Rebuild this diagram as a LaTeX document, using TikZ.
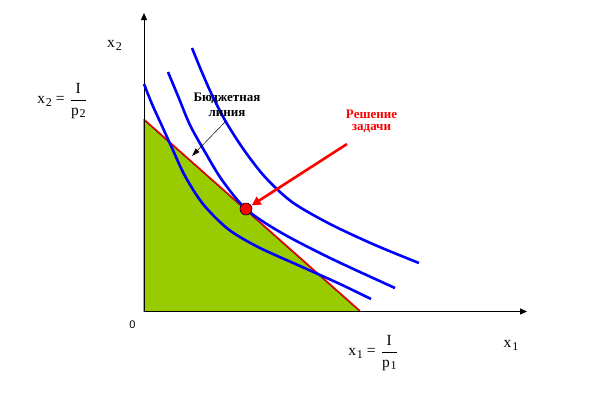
\documentclass[tikz,border=0pt]{standalone}
\usepackage{fontspec}
\setmainfont{Liberation Serif}
\newfontfamily\arialfont{Liberation Sans}
\usetikzlibrary{arrows.meta}
\definecolor{budgetgreen}{HTML}{99CC00}
\newcommand{\lowidx}[1]{\kern0.8pt\raisebox{-0.4ex}{\fontsize{12}{13}\selectfont #1}}
\newcommand{\ratiofrac}[2]{{\renewcommand{\arraystretch}{1.25}\begin{tabular}{@{}c@{}}#1\\\hline #2\end{tabular}}}
\begin{document}
\begin{tikzpicture}[x=1pt,y=-1pt,
	axis/.style={line width=1pt,-{Triangle[length=7pt,width=6pt]}},
	ic/.style={blue,line width=2.6pt},
	lbl/.style={inner sep=0pt,font=\fontsize{15.5}{17}\selectfont},
	note/.style={inner sep=0pt,align=center,font=\bfseries\fontsize{13}{15}\selectfont}]
	\useasboundingbox (0,0) rectangle (612,408);
	\coordinate (O)  at (144,311.5);
	\coordinate (Y)  at (144,13);
	\coordinate (X)  at (527,311.5);
	\coordinate (B2) at (144,120);
	\coordinate (B1) at (360,311.5);
	\fill[budgetgreen,draw=black,line width=0.8pt] (B2) -- (B1) -- (O) -- cycle;
	\draw[red,line width=1.4pt] ([yshift=0.7pt]B2) -- ([yshift=0.7pt]B1);
	\draw[axis] (O) -- (Y);
	\draw[axis] (O) -- (X);
	\draw[ic] plot[smooth] coordinates {(144,84) (152,104) (162,126) (172,148) (185,176) (203,204) (228,229) (258,247) (300,266) (340,284) (371,299)};
	\draw[ic] plot[smooth] coordinates {(168,72) (178,96) (190,125) (205,152) (222,180) (246,209) (280,232) (330,258) (395,288)};
	\draw[ic] plot[smooth] coordinates {(192,48) (201,70) (212,95) (226,122) (244,150) (265,177) (292,202) (330,224) (375,245) (419,263)};
	\node (OPT)  at (246,209)	[circle, draw=black, fill=red, minimum size=12pt, inner sep=0pt, line width=0.6pt]	{};
	\node (LX2)  at (114.5,45.5)	[lbl]	{x\lowidx{2}};
	\node (LX1)  at (511,345.5)	[lbl]	{x\lowidx{1}};
	\node (EQ2)  at (61.5,100)	[lbl]	{x\lowidx{2} = \,\ratiofrac{I}{p\lowidx{2}}};
	\node (EQ1)  at (372.5,352)	[lbl]	{x\lowidx{1} = \,\ratiofrac{I}{p\lowidx{1}}};
	\node (ZERO) at (132.5,324.5)	[inner sep=0pt, font=\arialfont\fontsize{11}{13}\selectfont]	{0};
	\node (BUD)  at (227,105)	[note]	{Бюджетная\\линия};
	\node (SOL)  at (371.5,121)	[note, red, font=\bfseries\fontsize{13}{12}\selectfont]	{Решение\\задачи};
	\coordinate (BUDTAIL) at (225,122);
	\coordinate (BUDTIP)  at (192,156);
	\coordinate (SOLTAIL) at (347,144);
	\draw[line width=0.5pt,-{Triangle[length=8pt,width=5pt]}] (BUDTAIL) -- (BUDTIP);
	\draw[red,line width=2.6pt,shorten >=0.5pt,-{Triangle[length=9pt,width=9pt]}] (SOLTAIL) -- (OPT);
\end{tikzpicture}
\end{document}
